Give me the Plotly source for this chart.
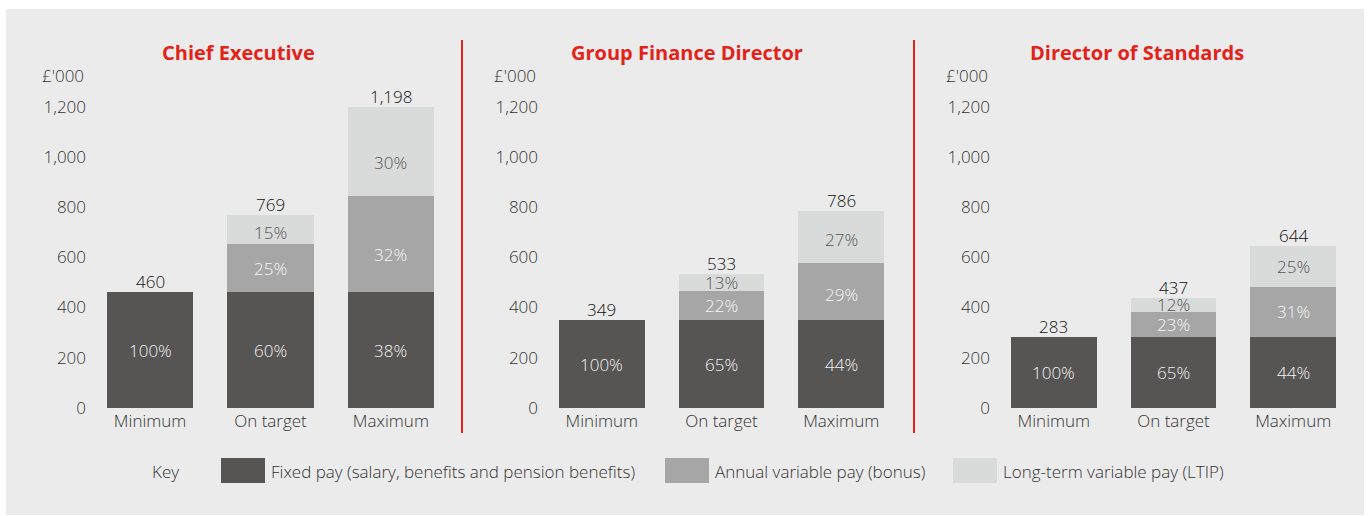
import plotly.graph_objects as go

# ---- data -------------------------------------------------------------
scenarios = ["Minimum", "On target", "Maximum"]
roles = ["Chief Executive", "Group Finance Director", "Director of Standards"]
series_names = [
    "Fixed pay (salary, benefits and pension benefits)",
    "Annual variable pay (bonus)",
    "Long-term variable pay (LTIP)",
]

# £'000 per scenario
ce_fixed = [460, 460, 460]
ce_bonus = [0, 192, 383]
ce_ltip = [0, 117, 355]

gfd_fixed = [349, 349, 349]
gfd_bonus = [0, 117, 228]
gfd_ltip = [0, 67, 209]

dos_fixed = [283, 283, 283]
dos_bonus = [0, 101, 200]
dos_ltip = [0, 53, 161]

y_ticks = [0, 200, 400, 600, 800, 1000, 1200]
y_tick_text = ["0", "200", "400", "600", "800", "1,000", "1,200"]

# ---- styling ----------------------------------------------------------
W, H = 1369, 516
FONT = "Open Sans"
FS = 17
RED = "#e2231a"
TXT = "#333333"
COLORS = ["#565553", "#a6a6a6", "#d9dada"]
LABEL_COLORS = ["#f2f2f2", "#f7f7f7", "#555555"]
PANEL_BG = "#ebebeb"


def px(x):
    return x / W


def py(y):
    return 1 - y / H


def font(size=FS, color=TXT, weight=300):
    return dict(family=FONT, size=size, color=color, weight=weight)


# label_shift: pixel nudges for segment labels, keyed by (series, scenario)
panels = [
    dict(fixed=ce_fixed, bonus=ce_bonus, ltip=ce_ltip, left=107, right=434, title_x=238,
         label_shift={(2, 1): -3, (1, 2): -10, (2, 2): -11}),
    dict(fixed=gfd_fixed, bonus=gfd_bonus, ltip=gfd_ltip, left=559, right=884, title_x=687,
         label_shift={(1, 2): -3, (2, 2): -3}),
    dict(fixed=dos_fixed, bonus=dos_bonus, ltip=dos_ltip, left=1011, right=1336, title_x=1137,
         label_shift={}),
]

fig = go.Figure()
annotations = []
shapes = []

# grey backdrop behind the whole graphic
shapes.append(dict(type="rect", xref="paper", yref="paper", x0=px(6), x1=px(1364),
                   y0=py(515), y1=py(9), fillcolor=PANEL_BG, line_width=0, layer="below"))

# red dividers between the three panels
for xd in (462, 914):
    shapes.append(dict(type="line", xref="paper", yref="paper", x0=px(xd), x1=px(xd),
                       y0=py(433), y1=py(40), line=dict(color=RED, width=2)))

y_bottom, y_top = 408, 83
y_max = 1294

for i, (role, p) in enumerate(zip(roles, panels), start=1):
    xa = "x" if i == 1 else f"x{i}"
    ya = "y" if i == 1 else f"y{i}"
    stacks = [p["fixed"], p["bonus"], p["ltip"]]
    totals = [sum(v) for v in zip(*stacks)]

    for k, (vals, name) in enumerate(zip(stacks, series_names)):
        fig.add_trace(go.Bar(
            x=scenarios, y=vals, name=name, xaxis=xa, yaxis=ya,
            marker=dict(color=COLORS[k], line=dict(width=0)),
            width=0.717, showlegend=False, hoverinfo="skip",
        ))

    # percentage labels centred in each segment
    base = [0, 0, 0]
    for k, vals in enumerate(stacks):
        for j, v in enumerate(vals):
            if v > 0:
                annotations.append(dict(
                    x=scenarios[j], y=base[j] + v / 2, xref=xa, yref=ya,
                    text=f"{round(v / totals[j] * 100)}%", showarrow=False,
                    font=font(color=LABEL_COLORS[k]), yanchor="middle",
                    yshift=p["label_shift"].get((k, j), 0),
                ))
            base[j] += v

    # totals above each bar
    for j, t in enumerate(totals):
        annotations.append(dict(
            x=scenarios[j], y=t, xref=xa, yref=ya, text=f"{t:,}", showarrow=False,
            font=font(color="#111111"), yanchor="bottom", yshift=-3,
        ))

    # panel title and unit label
    annotations.append(dict(
        x=px(p["title_x"]), y=py(53), xref="paper", yref="paper",
        text=f"<b>{role}</b>", showarrow=False,
        font=dict(family=FONT, size=20, color=RED), xanchor="center", yanchor="middle",
    ))
    annotations.append(dict(
        x=px(p["left"] - 21), y=py(75), xref="paper", yref="paper",
        text="£'000", showarrow=False, font=font(),
        xanchor="right", yanchor="middle",
    ))

    fig.layout[f"xaxis{'' if i == 1 else i}"] = dict(
        domain=[px(p["left"]), px(p["right"])], anchor=ya,
        type="category", range=[-0.358, 2.358], automargin=False,
        showgrid=False, showline=False, zeroline=False, ticks="",
        tickfont=font(), ticklabelstandoff=1, fixedrange=True,
    )
    fig.layout[f"yaxis{'' if i == 1 else i}"] = dict(
        domain=[py(y_bottom), py(y_top)], anchor=xa, automargin=False,
        range=[0, y_max], tickvals=y_ticks, ticktext=y_tick_text,
        showgrid=False, showline=False, zeroline=False, ticks="",
        tickfont=font(), ticklabelstandoff=20, fixedrange=True,
    )

# key along the bottom
annotations.append(dict(x=px(150), y=py(471), xref="paper", yref="paper", text="Key",
                        showarrow=False, xanchor="left", yanchor="middle", font=font()))
key_x = [221, 665, 953]
for k, (name, x0) in enumerate(zip(series_names, key_x)):
    shapes.append(dict(type="rect", xref="paper", yref="paper", x0=px(x0), x1=px(x0 + 44),
                       y0=py(483), y1=py(458), fillcolor=COLORS[k], line_width=0))
    annotations.append(dict(x=px(x0 + 48), y=py(471), xref="paper", yref="paper", text=name,
                            showarrow=False, xanchor="left", yanchor="middle", font=font()))

fig.update_layout(
    width=W, height=H, margin=dict(l=0, r=0, t=0, b=0, pad=0, autoexpand=False),
    paper_bgcolor="white", plot_bgcolor="white",
    barmode="stack", bargap=0,
    annotations=annotations, shapes=shapes,
    font=dict(family=FONT),
)

fig.write_html("out.html")
